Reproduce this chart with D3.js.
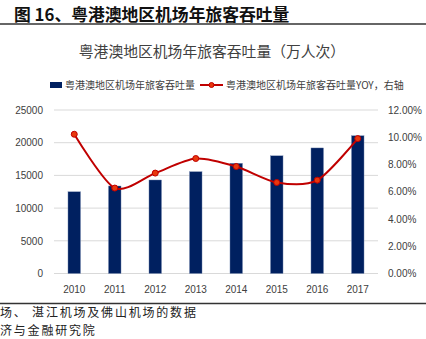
<!DOCTYPE html>
<html><head><meta charset="utf-8">
<script src="https://cdn.jsdelivr.net/npm/d3@7/dist/d3.min.js"></script>
<style>body{margin:0;background:#fff;}svg{display:block;}</style>
</head><body>
<svg id="c" width="426" height="339"></svg>
<script>
const years = ["2010","2011","2012","2013","2014","2015","2016","2017"];
const passengers = [12500, 13380, 14300, 15570, 16850, 18000, 19200, 21070];
const yoy = [10.22, 6.27, 7.37, 8.44, 7.85, 6.68, 6.85, 9.9];
const leftTicks = [0,5000,10000,15000,20000,25000];
const rightTicks = [0,2,4,6,8,10,12];

const svg = d3.select("#c");
const cjk = "'Noto Sans CJK SC', sans-serif";
const num = "'Liberation Sans', Arial, sans-serif";

// header
svg.append("text").attr("x",14).attr("y",21).attr("font-family",cjk).attr("font-weight","bold")
  .attr("font-size",16.8).attr("fill","#111").text("图 16、粤港澳地区机场年旅客吞吐量");
svg.append("line").attr("x1",0).attr("x2",426).attr("y1",24).attr("y2",24).attr("stroke","#333").attr("stroke-width",1.3);

// title
svg.append("text").attr("x",212).attr("y",57).attr("text-anchor","middle").attr("font-family",cjk)
  .attr("font-size",14.8).attr("fill","#404040").text("粤港澳地区机场年旅客吞吐量（万人次）");

const x = d3.scaleBand().domain(years).range([54,378]).paddingInner(0.69).paddingOuter(0.345);
const yL = d3.scaleLinear().domain([0,25000]).range([273.5,110]);
const yR = d3.scaleLinear().domain([0,12]).range([273.5,110]);

// grid
svg.append("g").selectAll("line").data(leftTicks).join("line")
  .attr("x1",54).attr("x2",378).attr("y1",d=>yL(d)).attr("y2",d=>yL(d))
  .attr("stroke","#d9d9d9").attr("stroke-width",1);

// left axis
const gl = svg.append("g").attr("transform","translate(54,0)")
  .call(d3.axisLeft(yL).tickValues(leftTicks).tickSize(0).tickPadding(11).tickFormat(d3.format("d")));
gl.select(".domain").remove();
gl.selectAll("text").attr("font-family",num).attr("font-size",10).attr("fill","#404040");

// right axis
const gr = svg.append("g").attr("transform","translate(378,0)")
  .call(d3.axisRight(yR).tickValues(rightTicks).tickSize(0).tickPadding(10).tickFormat(d=>d.toFixed(2)+"%"));
gr.select(".domain").remove();
gr.selectAll("text").attr("font-family",num).attr("font-size",10).attr("fill","#404040");

// bottom axis
const gb = svg.append("g").attr("transform","translate(0,273.5)")
  .call(d3.axisBottom(x).tickSize(0).tickPadding(12));
gb.select(".domain").remove();
gb.selectAll("text").attr("font-family",num).attr("font-size",10).attr("fill","#404040");

// bars
svg.append("g").selectAll("rect").data(passengers).join("rect")
  .attr("x",(d,i)=>x(years[i])).attr("width",x.bandwidth())
  .attr("y",d=>yL(d)).attr("height",d=>yL(0)-yL(d))
  .attr("fill","#002060").attr("stroke","#8496b8").attr("stroke-width",0.4);

// line
const cx = i => x(years[i]) + x.bandwidth()/2;
const line = d3.line().x((d,i)=>cx(i)).y(d=>yR(d)).curve(d3.curveCardinal.tension(0.2));
svg.append("path").datum(yoy).attr("d",line).attr("fill","none").attr("stroke","#c00000").attr("stroke-width",2);
svg.append("g").selectAll("circle").data(yoy).join("circle")
  .attr("cx",(d,i)=>cx(i)).attr("cy",d=>yR(d)).attr("r",3)
  .attr("fill","#e8380d").attr("stroke","#c00000").attr("stroke-width",1);

// legend
svg.append("rect").attr("x",50).attr("y",82).attr("width",12).attr("height",6).attr("fill","#002060");
svg.append("text").attr("x",65).attr("y",89).attr("font-family",cjk).attr("font-size",10).attr("fill","#404040").text("粤港澳地区机场年旅客吞吐量");
svg.append("line").attr("x1",200).attr("x2",223).attr("y1",85).attr("y2",85).attr("stroke","#c00000").attr("stroke-width",2);
svg.append("circle").attr("cx",211.5).attr("cy",85).attr("r",2.5).attr("fill","#e8380d").attr("stroke","#c00000");
svg.append("text").attr("x",226).attr("y",89).attr("font-family",cjk).attr("font-size",10).attr("fill","#404040").text("粤港澳地区机场年旅客吞吐量YOY，右轴");

// footer
svg.append("line").attr("x1",0).attr("x2",426).attr("y1",303.5).attr("y2",303.5).attr("stroke","#333").attr("stroke-width",1.3);
svg.append("text").attr("x",0).attr("y",317).attr("font-family",cjk).attr("font-size",12).attr("letter-spacing",1.8).attr("fill","#222").text("场、 湛江机场及佛山机场的数据");
svg.append("text").attr("x",0).attr("y",334.5).attr("font-family",cjk).attr("font-size",12).attr("letter-spacing",1.8).attr("fill","#222").text("济与金融研究院");
</script>
</body></html>
